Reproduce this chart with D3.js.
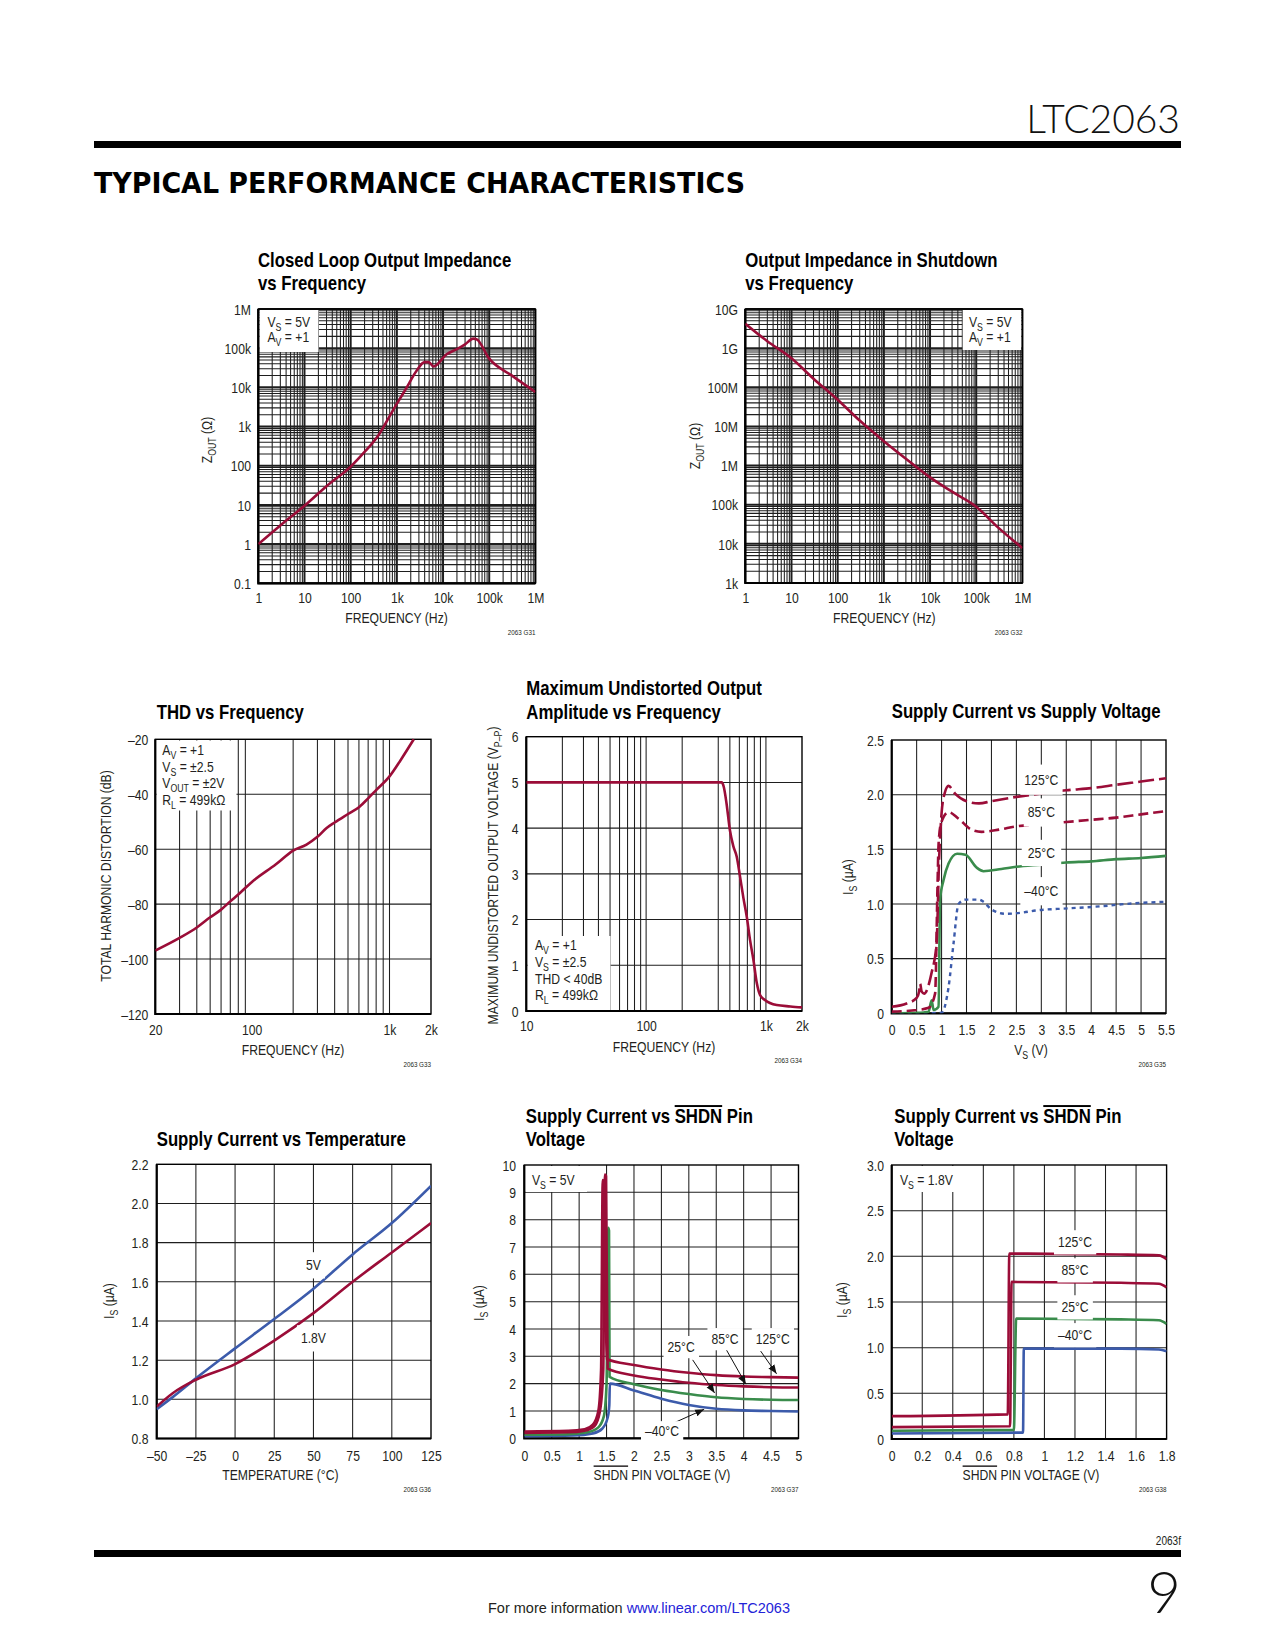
<!DOCTYPE html>
<html><head><meta charset="utf-8">
<script src="https://cdn.jsdelivr.net/npm/d3@7"></script>
<style>
body{margin:0;background:#fff}
svg text{font-family:'Liberation Sans',Arial,Helvetica,sans-serif;fill:#231f20}
.ttl{font-weight:bold;font-size:19.5px;fill:#000}
.tick text{font-size:14.5px}
.lab{font-size:14.5px}
.code{font-size:7.5px}
</style></head><body>
<script>
// ------------------- DATA -------------------
// Closed loop output impedance vs frequency
const zclFreq=[1,3,10,30,100,200,400,800,1600,2700,4000,4900,6200,12000,20000,30000,45000,53000,100000,300000,1000000];
const zclOhm=[1.0,3.0,9.5,30,95,225,600,2450,9500,27000,44000,44000,34000,70000,95000,125000,175000,170000,54000,20500,7600];
// Output impedance in shutdown vs frequency
const zsdFreq=[1,3,10,30,100,300,1000,3000,10000,30000,100000,300000,1000000];
const zsdOhm=[4.2e9,1.5e9,5.5e8,1.66e8,4.8e7,1.41e7,4.2e6,1.5e6,5.0e5,2.15e5,8.9e4,2.6e4,7.8e3];
// THD vs frequency
const thdFreq=[20,30,40,50,60,70,80,100,150,200,250,300,350,400,500,600,700,800,1000,1200,1500];
const thdDb=[-96.9,-92.3,-88.5,-84.8,-82,-79,-76.5,-72,-65.5,-60.5,-58.3,-55.5,-52.3,-50.3,-47.2,-44.7,-41.5,-38.5,-33.5,-27.7,-20];
// Max undistorted output amplitude vs frequency
const mudFreq=[10,100,427,445,469,500,535,570,608,649,692,737,786,839,893,981,1230,1600,2000];
const mudVpp=[5,5,5,4.9,4.54,3.96,3.6,3.38,2.94,2.47,2.06,1.55,1.12,0.61,0.35,0.24,0.13,0.1,0.08];
// Supply current vs supply voltage [Vs, Is]
const isv125=[[0,0.06],[0.3,0.09],[0.5,0.14],[0.55,0.2],[0.57,0.27],[0.6,0.2],[0.65,0.18],[0.8,0.37],[0.9,0.64],[0.95,1.4],[1.0,1.83],[1.06,2.01],[1.14,2.08],[1.27,2.01],[1.5,1.94],[1.75,1.92],[2.0,1.94],[2.5,1.98],[3.0,2.01],[3.5,2.04],[4.0,2.06],[4.5,2.09],[5.0,2.12],[5.5,2.15]];
const isv85=[[0,0.015],[0.5,0.03],[0.74,0.05],[0.87,0.18],[0.92,1.2],[0.94,1.55],[0.99,1.74],[1.14,1.84],[1.34,1.78],[1.6,1.68],[1.8,1.66],[2.15,1.68],[2.5,1.71],[3.0,1.73],[3.5,1.75],[4.0,1.77],[4.5,1.79],[5.0,1.82],[5.5,1.85]];
const isv25=[[0,0],[0.5,0.005],[0.74,0.015],[0.8,0.12],[0.84,0.03],[0.94,0.06],[0.97,1.04],[1.04,1.22],[1.14,1.37],[1.31,1.46],[1.48,1.45],[1.71,1.33],[1.84,1.30],[2.2,1.32],[2.5,1.34],[3.0,1.36],[3.5,1.38],[4.0,1.39],[4.5,1.41],[5.0,1.42],[5.5,1.44]];
const isvM40=[[0,0],[0.5,0],[1.0,0.005],[1.14,0.24],[1.24,0.64],[1.34,1.0],[1.48,1.04],[1.75,1.04],[1.84,1.02],[2.0,0.95],[2.28,0.91],[2.6,0.92],[2.88,0.94],[3.55,0.96],[4.22,0.98],[4.69,1.0],[5.0,1.01],[5.5,1.02]];
// Supply current vs temperature
const tempC=[-50,-40,-25,0,25,50,75,100,125];
const is5V=[0.95,1.01,1.107,1.26,1.41,1.565,1.74,1.90,2.09];
const is18V=[0.963,1.03,1.10,1.18,1.30,1.44,1.60,1.75,1.90];
// Supply current vs SHDN pin voltage, Vs=5V [Vshdn, Is]
const sh5T125=[[0,0.25],[0.8,0.27],[1.1,0.33],[1.25,0.5],[1.35,1.0],[1.4,2.5],[1.43,9.45],[1.45,9.4],[1.5,2.9],[2.0,2.68],[2.5,2.52],[3.0,2.4],[3.5,2.31],[4.0,2.26],[4.5,2.24],[5.0,2.22]];
const sh5T85=[[0,0.2],[0.8,0.22],[1.1,0.28],[1.28,0.45],[1.38,1.0],[1.44,2.5],[1.47,9.65],[1.49,9.6],[1.52,2.55],[2.0,2.3],[2.5,2.15],[3.0,2.03],[3.5,1.95],[4.0,1.9],[4.5,1.87],[5.0,1.86]];
const sh5T25=[[0,0.13],[0.8,0.15],[1.15,0.22],[1.35,0.4],[1.45,0.8],[1.5,2.0],[1.53,7.7],[1.545,7.6],[1.555,2.25],[2.0,1.98],[2.5,1.77],[3.0,1.62],[3.5,1.5],[4.0,1.44],[4.5,1.41],[5.0,1.4]];
const sh5TM40=[[0,0.08],[0.9,0.1],[1.25,0.18],[1.42,0.35],[1.52,0.75],[1.55,1.2],[1.56,2.0],[2.0,1.75],[2.5,1.45],[3.0,1.22],[3.5,1.08],[4.0,1.02],[4.5,1.0],[5.0,0.98]];
// Supply current vs SHDN pin voltage, Vs=1.8V
const sh18T125=[[0,0.25],[0.76,0.27],[0.77,2.03],[1.5,2.02],[1.75,2.01],[1.8,1.97]];
const sh18T85=[[0,0.13],[0.775,0.14],[0.785,1.72],[1.5,1.71],[1.75,1.70],[1.8,1.66]];
const sh18T25=[[0,0.09],[0.8,0.1],[0.815,1.32],[1.5,1.31],[1.75,1.30],[1.8,1.26]];
const sh18TM40=[[0,0.06],[0.86,0.07],[0.865,0.99],[1.5,0.99],[1.75,0.98],[1.8,0.96]];

// tick values / labels
const decTicks=[1,10,100,1e3,1e4,1e5,1e6];
const decLabels=['1','10','100','1k','10k','100k','1M'];
const zclYTicks=[0.1,1,10,100,1e3,1e4,1e5,1e6];
const zclYLabels=['0.1','1','10','100','1k','10k','100k','1M'];
const zsdYTicks=[1e3,1e4,1e5,1e6,1e7,1e8,1e9,1e10];
const zsdYLabels=['1k','10k','100k','1M','10M','100M','1G','10G'];
const thdXTicks=[20,100,1000,2000], thdXLabels=['20','100','1k','2k'];
const thdYTicks=[-120,-100,-80,-60,-40,-20], thdYLabels=['–120','–100','–80','–60','–40','–20'];
const thdXGrid=[30,40,50,60,70,80,90,200,300,400,500,600,700,800,900,1000];
const mudXTicks=[10,100,1000,2000], mudXLabels=['10','100','1k','2k'];
const mudYTicks=[0,1,2,3,4,5,6];
const mudXGrid=[20,30,40,50,60,70,80,90,100,200,400,500,600,700,800,900,1000];
const isvXTicks=[0,0.5,1,1.5,2,2.5,3,3.5,4,4.5,5,5.5], isvXLabels=['0','0.5','1','1.5','2','2.5','3','3.5','4','4.5','5','5.5'];
const isvYTicks=[0,0.5,1,1.5,2,2.5], isvYLabels=['0','0.5','1.0','1.5','2.0','2.5'];
const tmpXTicks=[-50,-25,0,25,50,75,100,125], tmpXLabels=['–50','–25','0','25','50','75','100','125'];
const tmpYTicks=[0.8,1.0,1.2,1.4,1.6,1.8,2.0,2.2], tmpYLabels=['0.8','1.0','1.2','1.4','1.6','1.8','2.0','2.2'];
const sh5XTicks=[0,0.5,1,1.5,2,2.5,3,3.5,4,4.5,5], sh5XLabels=['0','0.5','1','1.5','2','2.5','3','3.5','4','4.5','5'];
const sh5YTicks=[0,1,2,3,4,5,6,7,8,9,10];
const sh18XTicks=[0,0.2,0.4,0.6,0.8,1.0,1.2,1.4,1.6,1.8], sh18XLabels=['0','0.2','0.4','0.6','0.8','1','1.2','1.4','1.6','1.8'];
const sh18YTicks=[0,0.5,1.0,1.5,2.0,2.5,3.0], sh18YLabels=['0','0.5','1.0','1.5','2.0','2.5','3.0'];

// ------------------- DRAWING -------------------
const RED='#9b0d38', GREEN='#3a8c4c', BLUE='#3c5bab';
const SX=0.84, SXB=0.86;
const svg=d3.select('body').append('svg').attr('width',1275).attr('height',1650);
const defs=svg.append('defs');
defs.append('marker').attr('id','arr').attr('viewBox','0 0 10 10').attr('refX',10).attr('refY',5)
  .attr('markerWidth',9).attr('markerHeight',9).attr('markerUnits','userSpaceOnUse').attr('orient','auto')
  .append('path').attr('d','M0,1L10,5L0,9Z').attr('fill','#111');

function rich(t,parts,fs){
  let sh=0;
  parts.forEach(p=>{
    const s=Array.isArray(p)?p[0]:p, k=Array.isArray(p)?p[1]:null;
    const ts=t.append('tspan').text(s);
    if(k==='sub'){ts.attr('font-size',fs*0.72).attr('dy',fs*0.28-sh);sh=fs*0.28;}
    else{ if(sh){ts.attr('dy',-sh);sh=0;} if(k==='over')ts.style('text-decoration','overline');}
  });
  return t;
}
function txt(p,x,y,cls,anchor,rot){
  return p.append('text').attr('class',cls).attr('text-anchor',anchor||'start')
    .attr('transform',`translate(${x},${y})${rot?' rotate(-90)':''} scale(${cls==='ttl'?SXB:SX},1)`);
}
function squeeze(sel){
  sel.each(function(){const t=d3.select(this);const x=+t.attr('x')||0,y=+t.attr('y')||0;
    t.attr('x',null).attr('y',null).attr('transform',`translate(${x},${y}) scale(${SX},1)`);});
}
function logGrid(a,b){const o=[];for(let e=Math.round(Math.log10(a));e<Math.round(Math.log10(b));e++){for(let m=1;m<10;m++)o.push(m*Math.pow(10,e));}o.push(b);return o;}
const isDec=d=>Math.abs(Math.log10(d)-Math.round(Math.log10(d)))<1e-9;
let cid=0;
function chart(o){
  const g=svg.append('g');
  const x=(o.xlog?d3.scaleLog():d3.scaleLinear()).domain(o.xd).range([o.x0,o.x1]);
  const y=(o.ylog?d3.scaleLog():d3.scaleLinear()).domain(o.yd).range([o.y1,o.y0]);
  const dense=o.dense;
  g.append('g').selectAll('line').data(o.xg).join('line')
    .attr('x1',d=>x(d)).attr('x2',d=>x(d)).attr('y1',o.y0).attr('y2',o.y1)
    .attr('stroke','#1e1e1e').attr('stroke-width',d=>dense&&isDec(d)?2:1.05);
  g.append('g').selectAll('line').data(o.yg).join('line')
    .attr('y1',d=>y(d)).attr('y2',d=>y(d)).attr('x1',o.x0).attr('x2',o.x1)
    .attr('stroke','#1e1e1e').attr('stroke-width',d=>dense&&isDec(d)?2:1.05);
  (o.boxes||[]).forEach(b=>g.append('rect').attr('x',b[0]).attr('y',b[1]).attr('width',b[2]).attr('height',b[3]).attr('fill','#fff'));
  g.append('rect').attr('x',o.x0).attr('y',o.y0).attr('width',o.x1-o.x0).attr('height',o.y1-o.y0)
    .attr('fill','none').attr('stroke','#000').attr('stroke-width',1.4);
  g.append('path').attr('d',`M${o.x0},${o.y0}V${o.y1}H${o.x1}`).attr('fill','none').attr('stroke','#000').attr('stroke-width',2.2);
  const ax=g.append('g').attr('transform',`translate(0,${o.y1})`)
    .call(d3.axisBottom(x).tickValues(o.xt).tickFormat((d,i)=>o.xl[i]).tickSize(0));
  ax.select('.domain').remove();
  ax.selectAll('text').attr('y',o.xlb-o.y1).attr('dy',null);
  squeeze(ax.selectAll('text'));
  const ay=g.append('g').attr('transform',`translate(${o.x0},0)`)
    .call(d3.axisLeft(y).tickValues(o.yt).tickFormat((d,i)=>o.yl[i]).tickSize(0));
  ay.select('.domain').remove();
  ay.selectAll('text').attr('x',o.ylr-o.x0).attr('dy','0.36em');
  squeeze(ay.selectAll('text'));
  o.title.forEach((ln,i)=>rich(txt(g,o.tx,o.tb[i],'ttl'),ln,19.5));
  rich(txt(g,o.xtx,o.xtb,'lab','middle'),o.xtitle,14.5);
  rich(txt(g,o.ytx,o.yty,'lab','middle',true),o.ytitle,14.5);
  txt(g,o.x1,o.cb,'code','end').text(o.code);
  if(o.legend) o.legend.lines.forEach((ln,i)=>rich(txt(g,o.legend.x,o.legend.b[i],'lab'),ln,14.5));
  const id='clip'+(cid++);
  defs.append('clipPath').attr('id',id).append('rect').attr('x',o.x0).attr('y',o.y0-1).attr('width',o.x1-o.x0).attr('height',o.y1-o.y0+1);
  const line=d3.line().x(d=>x(d[0])).y(d=>y(d[1])).curve(d3.curveMonotoneX);
  const sg=g.append('g').attr('clip-path',`url(#${id})`);
  o.series.forEach(s=>sg.append('path').attr('d',line(s.d)).attr('fill','none').attr('stroke',s.c)
    .attr('stroke-width',s.w||2.6).attr('stroke-dasharray',s.dash||null).attr('stroke-linejoin','round'));
  (o.arrows||[]).forEach(a=>g.append('line').attr('x1',x(a[0][0])).attr('y1',y(a[0][1])).attr('x2',x(a[1][0])).attr('y2',y(a[1][1]))
     .attr('stroke','#111').attr('stroke-width',1).attr('marker-end','url(#arr)'));
  (o.notes||[]).forEach(n=>{
    const X=x(n.x),Y=y(n.y);
    const t=txt(g,X,Y,'lab','middle').attr('dy','0.36em').text(n.t);
    const b=t.node().getBBox(), px=n.px||4, py=n.py||4;
    g.insert('rect',()=>t.node()).attr('x',X+b.x*SX-px).attr('y',Y+b.y-py).attr('width',b.width*SX+2*px).attr('height',b.height+2*py).attr('fill','#fff');
  });
  return {x,y};
}
const VS=[['V'],['S','sub']], AV=[['A'],['V','sub']];

// header
svg.append('text').attr('x',1180).attr('y',133).attr('text-anchor','end')
  .style('font-family',"Lato,'Open Sans',sans-serif").style('font-weight',300).style('font-size','39px').style('fill','#111').text('LTC2063');
svg.append('rect').attr('x',94).attr('y',141).attr('width',1087).attr('height',7).attr('fill','#000');
svg.append('text').attr('x',94).attr('y',193).attr('textLength',651).attr('lengthAdjust','spacingAndGlyphs')
  .style('font-family',"'DejaVu Sans Condensed','DejaVu Sans',sans-serif").style('font-weight','bold').style('font-size','28px').style('fill','#000')
  .text('TYPICAL PERFORMANCE CHARACTERISTICS');

// C1
chart({x0:258.3,x1:535.4,y0:309,y1:583.3,xlog:true,xd:[1,1e6],ylog:true,yd:[0.1,1e6],dense:true,
  xg:logGrid(1,1e6),yg:logGrid(0.1,1e6),xt:decTicks,xl:decLabels,yt:zclYTicks,yl:zclYLabels,xlb:602.5,ylr:251,
  title:[['Closed Loop Output Impedance'],['vs Frequency']],tx:258,tb:[267.3,290],
  xtitle:['FREQUENCY (Hz)'],xtx:396.5,xtb:622.5,ytitle:[['Z'],['OUT','sub'],[' (Ω)']],ytx:211.5,yty:440,code:'2063 G31',cb:635,
  boxes:[[259.5,310,59,42]],legend:{x:267.5,b:[327,342],lines:[[...VS,' = 5V'],[...AV,' = +1']]},
  series:[{d:d3.zip(zclFreq,zclOhm),c:RED}]});
// C2
chart({x0:745.3,x1:1022.4,y0:309,y1:583,xlog:true,xd:[1,1e6],ylog:true,yd:[1e3,1e10],dense:true,
  xg:logGrid(1,1e6),yg:logGrid(1e3,1e10),xt:decTicks,xl:decLabels,yt:zsdYTicks,yl:zsdYLabels,xlb:602.5,ylr:738,
  title:[['Output Impedance in Shutdown'],['vs Frequency']],tx:745.3,tb:[267.3,290],
  xtitle:['FREQUENCY (Hz)'],xtx:884.3,xtb:622.5,ytitle:[['Z'],['OUT','sub'],[' (Ω)']],ytx:699.5,yty:446,code:'2063 G32',cb:635,
  boxes:[[962.7,310,58.5,40]],legend:{x:969,b:[327,342],lines:[[...VS,' = 5V'],[...AV,' = +1']]},
  series:[{d:d3.zip(zsdFreq,zsdOhm),c:RED}]});
// C3 THD
chart({x0:155.3,x1:431,y0:739.3,y1:1014,xlog:true,xd:[20,2000],yd:[-120,-20],
  xg:thdXGrid,yg:[-100,-80,-60,-40],xt:thdXTicks,xl:thdXLabels,yt:thdYTicks,yl:thdYLabels,xlb:1035,ylr:148.3,
  title:[['THD vs Frequency']],tx:156.7,tb:[719.3],
  xtitle:['FREQUENCY (Hz)'],xtx:293,xtb:1055,ytitle:['TOTAL HARMONIC DISTORTION (dB)'],ytx:111,yty:876,code:'2063 G33',cb:1067,
  boxes:[[156.5,740.5,80,70]],legend:{x:162.3,b:[755,771.7,788.3,805],lines:[[...AV,' = +1'],[...VS,' = ±2.5'],[['V'],['OUT','sub'],[' = ±2V']],[['R'],['L','sub'],[' = 499kΩ']]]},
  series:[{d:d3.zip(thdFreq,thdDb),c:RED}]});
// C4 Max undistorted
chart({x0:526.3,x1:802,y0:736.7,y1:1011,xlog:true,xd:[10,2000],yd:[0,6],
  xg:mudXGrid,yg:[1,2,3,4,5],xt:mudXTicks,xl:mudXLabels,yt:mudYTicks,yl:mudYTicks.map(String),xlb:1030.5,ylr:518.5,
  title:[['Maximum Undistorted Output'],['Amplitude vs Frequency']],tx:526.3,tb:[695,719],
  xtitle:['FREQUENCY (Hz)'],xtx:664,xtb:1051.6,ytitle:[['MAXIMUM UNDISTORTED OUTPUT VOLTAGE (V'],['P–P','sub'],[')']],ytx:498,yty:875.5,code:'2063 G34',cb:1063,
  boxes:[[527.5,936,83,74]],legend:{x:535,b:[950,967.3,984.3,1000],lines:[[...AV,' = +1'],[...VS,' = ±2.5'],['THD < 40dB'],[['R'],['L','sub'],[' = 499kΩ']]]},
  series:[{d:d3.zip(mudFreq,mudVpp),c:RED}]});
// C5 Supply current vs supply voltage
chart({x0:891.7,x1:1166,y0:740,y1:1013.3,xd:[0,5.5],yd:[0,2.5],
  xg:[0.5,1,1.5,2,2.5,3,3.5,4,4.5,5],yg:[0.5,1,1.5,2],xt:isvXTicks,xl:isvXLabels,yt:isvYTicks,yl:isvYLabels,xlb:1035,ylr:884,
  title:[['Supply Current vs Supply Voltage']],tx:891.7,tb:[718.3],
  xtitle:[...VS,' (V)'],xtx:1031,xtb:1055,ytitle:[['I'],['S','sub'],[' (µA)']],ytx:853,yty:877,code:'2063 G35',cb:1067,
  series:[{d:isvM40,c:BLUE,dash:'4,4',w:2.4},{d:isv25,c:GREEN},{d:isv85,c:RED,dash:'10,5'},{d:isv125,c:RED,dash:'16,5'}],
  notes:[{t:'125°C',x:3,y:2.14,py:7},{t:'85°C',x:3,y:1.84,py:6},{t:'25°C',x:3,y:1.47,py:5,px:6},{t:'–40°C',x:3,y:1.12,py:6}]});
// C6 Supply current vs temperature
chart({x0:156.7,x1:431,y0:1164.3,y1:1438.5,xd:[-50,125],yd:[0.8,2.2],
  xg:[-25,0,25,50,75,100],yg:[1.0,1.2,1.4,1.6,1.8,2.0],xt:tmpXTicks,xl:tmpXLabels,yt:tmpYTicks,yl:tmpYLabels,xlb:1460.6,ylr:148.5,
  title:[['Supply Current vs Temperature']],tx:156.7,tb:[1146],
  xtitle:['TEMPERATURE (°C)'],xtx:280.4,xtb:1479.5,ytitle:[['I'],['S','sub'],[' (µA)']],ytx:114,yty:1301,code:'2063 G36',cb:1492,
  series:[{d:d3.zip(tempC,is5V),c:BLUE},{d:d3.zip(tempC,is18V),c:RED}],
  notes:[{t:'5V',x:50,y:1.686,py:5},{t:'1.8V',x:50,y:1.313,py:5}]});
// C7 SHDN 5V
chart({x0:524.3,x1:798.5,y0:1165,y1:1438.3,xd:[0,5],yd:[0,10],
  xg:[0.5,1,1.5,2,2.5,3,3.5,4,4.5],yg:[1,2,3,4,5,6,7,8,9],xt:sh5XTicks,xl:sh5XLabels,yt:sh5YTicks,yl:sh5YTicks.map(String),xlb:1460.6,ylr:516,
  title:[['Supply Current vs ',['SHDN','over'],' Pin'],['Voltage']],tx:525.7,tb:[1123.3,1146],
  xtitle:[['SHDN','over'],' PIN VOLTAGE (V)'],xtx:662,xtb:1479.5,ytitle:[['I'],['S','sub'],[' (µA)']],ytx:484,yty:1303,code:'2063 G37',cb:1492,
  boxes:[[525.5,1166,61.5,26]],legend:{x:532,b:[1185],lines:[[...VS,' = 5V']]},
  series:[{d:sh5TM40,c:BLUE},{d:sh5T25,c:GREEN},{d:sh5T85,c:RED},{d:sh5T125,c:RED}],
  notes:[{t:'25°C',x:2.86,y:3.35,py:3},{t:'85°C',x:3.66,y:3.64,py:3},{t:'125°C',x:4.53,y:3.64,py:3},{t:'–40°C',x:2.51,y:0.27,py:2}],
  arrows:[[[3.07,2.87],[3.47,1.66]],[[3.67,3.29],[4.04,1.98]],[[4.31,3.19],[4.6,2.36]],[[2.68,0.52],[3.28,1.06]]]});
// C8 SHDN 1.8V
chart({x0:891.7,x1:1166.6,y0:1165,y1:1439,xd:[0,1.8],yd:[0,3],
  xg:[0.2,0.4,0.6,0.8,1.0,1.2,1.4,1.6],yg:[0.5,1,1.5,2,2.5],xt:sh18XTicks,xl:sh18XLabels,yt:sh18YTicks,yl:sh18YLabels,xlb:1460.6,ylr:884,
  title:[['Supply Current vs ',['SHDN','over'],' Pin'],['Voltage']],tx:894.3,tb:[1123.3,1146],
  xtitle:[['SHDN','over'],' PIN VOLTAGE (V)'],xtx:1031,xtb:1479.5,ytitle:[['I'],['S','sub'],[' (µA)']],ytx:847,yty:1300,code:'2063 G38',cb:1492,
  boxes:[[893,1166,65,26]],legend:{x:900,b:[1185],lines:[[...VS,' = 1.8V']]},
  series:[{d:sh18TM40,c:BLUE},{d:sh18T25,c:GREEN},{d:sh18T85,c:RED},{d:sh18T125,c:RED}],
  notes:[{t:'125°C',x:1.2,y:2.157,py:4},{t:'85°C',x:1.2,y:1.85,py:4},{t:'25°C',x:1.2,y:1.445,py:4},{t:'–40°C',x:1.2,y:1.14,py:4}]});

// footer
txt(svg,1181,1545,'lab','end').style('font-size','12px').text('2063f');
svg.append('rect').attr('x',94).attr('y',1550).attr('width',1087).attr('height',7).attr('fill','#000');
svg.append('text').attr('x',1181).attr('y',1613).attr('text-anchor','end')
  .style('font-family',"Lato,'Open Sans',sans-serif").style('font-weight',300).style('font-size','58px').style('fill','#111').text('9');
const ft=svg.append('text').attr('x',488).attr('y',1613).attr('textLength',302).attr('lengthAdjust','spacingAndGlyphs').style('font-size','15.5px');
ft.append('tspan').text('For more information ');
ft.append('tspan').style('fill','#2323d8').text('www.linear.com/LTC2063');
</script>
</body></html>
